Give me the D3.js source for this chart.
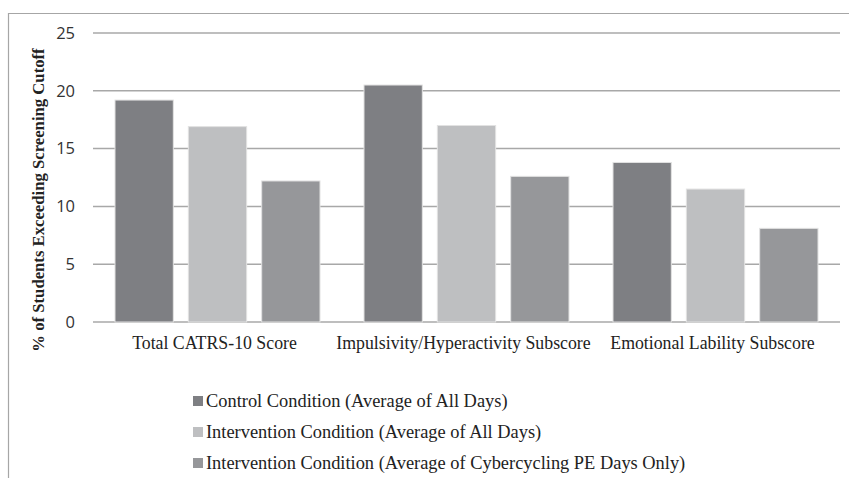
<!DOCTYPE html>
<html><head><meta charset="utf-8">
<script src="https://cdn.jsdelivr.net/npm/d3@7/dist/d3.min.js"></script>
<style>body{margin:0;background:#fff}</style>
</head><body><svg id="c" width="849" height="478"></svg>
<script>
const categories = ["Total CATRS-10 Score","Impulsivity/Hyperactivity Subscore","Emotional Lability Subscore"];
const seriesNames = ["Control Condition (Average of All Days)","Intervention Condition (Average of All Days)","Intervention Condition (Average of Cybercycling PE Days Only)"];
const controlAll = [19.2, 20.5, 13.8];
const interventionAll = [16.9, 17.0, 11.5];
const interventionPE = [12.2, 12.6, 8.1];
const yTicks = [0,5,10,15,20,25];
const colors = ["#7e7f83","#bebfc1","#96979a"];
const series = [controlAll, interventionAll, interventionPE];

const svg = d3.select("#c");
svg.append("path").attr("d","M8.5,478 V13.5 H849").attr("fill","none").attr("stroke","#a6a6a6").attr("stroke-width",1.2);

const x0 = d3.scaleBand().domain(categories).range([93,840]).paddingInner(0).paddingOuter(0);
const x1 = d3.scaleBand().domain([0,1,2]).range([22,227]).paddingInner(0.205).paddingOuter(0);
const y = d3.scaleLinear().domain([0,25]).range([322,33]);

const grid = svg.append("g");
grid.selectAll("line").data(yTicks).join("line")
  .attr("x1",93).attr("x2",840).attr("y1",d=>y(d)).attr("y2",d=>y(d))
  .attr("stroke","#a8a8a8").attr("stroke-width",1.5);

const yAxis = d3.axisLeft(y).tickValues(yTicks).tickSize(0).tickPadding(18);
const ga = svg.append("g").attr("transform","translate(93,0)").call(yAxis);
ga.select(".domain").remove();
ga.selectAll("text").attr("font-family","'Open Sans', sans-serif").attr("font-size",16.5).attr("fill","#333");

const g = svg.append("g");
categories.forEach((c,ci)=>{
  series.forEach((s,si)=>{
    g.append("rect")
      .attr("x", x0(c)+x1(si)).attr("width", x1.bandwidth())
      .attr("y", y(s[ci])).attr("height", y(0)-y(s[ci]))
      .attr("fill", colors[si]).attr("stroke","#e2e2e2").attr("stroke-width",1);
  });
});

svg.append("g").selectAll("text").data(categories).join("text")
  .attr("x",d=>x0(d)+x0.bandwidth()/2-3).attr("y",349)
  .attr("text-anchor","middle").attr("font-family","'Liberation Serif', 'Times New Roman', serif")
  .attr("font-size",17.8).attr("fill","#222").text(d=>d);

svg.append("text").attr("transform","translate(44,200) rotate(-90)")
  .attr("text-anchor","middle").attr("font-family","'Liberation Serif', 'Times New Roman', serif")
  .attr("font-weight","bold").attr("font-size",16.7).attr("fill","#222")
  .text("% of Students Exceeding Screening Cutoff");

const leg = svg.append("g");
seriesNames.forEach((n,i)=>{
  const yy = 401 + i*31;
  leg.append("rect").attr("x",193).attr("y",yy-5).attr("width",10).attr("height",10).attr("fill",colors[i]);
  leg.append("text").attr("x",206).attr("y",yy+6).attr("font-family","'Liberation Serif', 'Times New Roman', serif")
    .attr("font-size",18.4).attr("fill","#222").text(n);
});
</script></body></html>
